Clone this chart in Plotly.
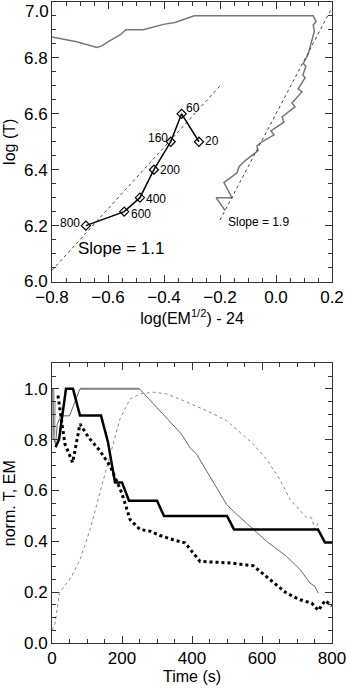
import plotly.graph_objects as go
from plotly.subplots import make_subplots

# ---- top panel: log T vs log(EM^1/2) - 24 ----
obs_x = [-0.275, -0.337, -0.376, -0.436, -0.486, -0.542, -0.679]
obs_y = [6.50, 6.60, 6.50, 6.40, 6.30, 6.25, 6.20]
obs_lbl = ["20", "60", "160", "200", "400", "600", "800"]

model_x = [-0.80, -0.712, -0.64, -0.622, -0.599, -0.557, -0.536, -0.474, -0.402,
           -0.361, -0.292, 0.133, 0.143, 0.133, 0.137, 0.131, 0.121, 0.115,
           0.0975, 0.107, 0.096, 0.104, 0.0786, 0.093, 0.057, 0.068, 0.021,
           0.029, -0.018, -0.007, -0.05, -0.068, -0.064, -0.111, -0.132,
           -0.139, -0.186, -0.157, -0.214, -0.182]
model_y = [6.875, 6.858, 6.837, 6.843, 6.858, 6.882, 6.901, 6.901, 6.92,
           6.927, 6.951, 6.951, 6.930, 6.918, 6.896, 6.873, 6.837, 6.813,
           6.780, 6.770, 6.739, 6.729, 6.689, 6.679, 6.639, 6.625, 6.589,
           6.571, 6.539, 6.525, 6.50, 6.486, 6.468, 6.432, 6.411,
           6.389, 6.354, 6.30, 6.30, 6.254]

fit1_x = [-0.80, -0.20]
fit1_y = [6.04, 6.70]
fit2_x = [-0.20, 0.20]
fit2_y = [6.22, 6.98]

logt_ticks = [6.0, 6.2, 6.4, 6.6, 6.8, 7.0]

# ---- bottom panel: normalised T and EM vs time ----
tobs_t = [10, 20, 40, 60, 80, 140, 160, 180, 200, 220, 300, 320, 500, 520, 760, 780, 800]
tobs_v = [0.77, 0.80, 1.0, 1.0, 0.895, 0.895, 0.79, 0.632, 0.632, 0.56, 0.56,
          0.50, 0.50, 0.447, 0.447, 0.395, 0.395]

emobs_t = [17, 37, 59, 80, 104, 137, 166, 199, 223, 251, 280, 309, 351, 380,
           423, 461, 509, 575, 613, 670, 709, 742, 761, 780, 800]
emobs_v = [0.974, 0.783, 0.71, 0.862, 0.81, 0.756, 0.697, 0.592, 0.486, 0.447,
           0.44, 0.423, 0.404, 0.394, 0.321, 0.318, 0.315, 0.304, 0.262, 0.196,
           0.17, 0.157, 0.128, 0.167, 0.146]

tmod_t = [2, 6, 10, 15, 25, 50, 80, 250, 370, 394, 413, 461, 499, 518, 556,
          613, 670, 709, 737, 751, 761]
tmod_v = [1.0, 0.80, 0.78, 0.86, 0.894, 0.894, 1.0, 1.0, 0.822, 0.769,
          0.743, 0.631, 0.545, 0.519, 0.47, 0.40, 0.341, 0.289, 0.236, 0.223, 0.196]

tpeak_t = [2, 4, 6, 8, None, 80, 250]
tpeak_v = [0.80, 1.0, 0.82, 0.95, None, 1.0, 1.0]

emmod_t = [1, 9, 21, 32, 56, 80, 109, 137, 166, 194, 223, 251, 290, 328, 375,
           442, 499, 537, 575, 613, 651, 680, 709, 728, 742, 751, 761]
emmod_v = [0.05, 0.078, 0.196, 0.216, 0.262, 0.328, 0.447, 0.592, 0.736, 0.881,
           0.96, 0.98, 0.987, 0.98, 0.954, 0.914, 0.875, 0.829, 0.783, 0.723,
           0.644, 0.565, 0.519, 0.493, 0.493, 0.447, 0.473]

FONT = "Liberation Sans, Arial, Helvetica, sans-serif"

fig = make_subplots(rows=2, cols=1, vertical_spacing=0.1278)

fig.add_trace(go.Scatter(x=model_x, y=model_y, mode="lines",
                         line=dict(color="#777777", width=1.5)), row=1, col=1)
fig.add_trace(go.Scatter(x=fit1_x, y=fit1_y, mode="lines",
                         line=dict(color="#444444", width=1, dash="dot")), row=1, col=1)
fig.add_trace(go.Scatter(x=fit2_x, y=fit2_y, mode="lines",
                         line=dict(color="#444444", width=1, dash="dot")), row=1, col=1)
fig.add_trace(go.Scatter(x=obs_x, y=obs_y, mode="lines+markers",
                         line=dict(color="black", width=1.5),
                         marker=dict(symbol="diamond-open", size=7, color="black",
                                     line=dict(width=1.2))), row=1, col=1)

fig.add_trace(go.Scatter(x=tpeak_t, y=tpeak_v, mode="lines",
                         line=dict(color="#bbbbbb", width=2.5)), row=2, col=1)
fig.add_trace(go.Scatter(x=tmod_t, y=tmod_v, mode="lines",
                         line=dict(color="#666666", width=1)), row=2, col=1)
fig.add_trace(go.Scatter(x=emmod_t, y=emmod_v, mode="lines",
                         line=dict(color="#888888", width=1, dash="dot")), row=2, col=1)
fig.add_trace(go.Scatter(x=emobs_t, y=emobs_v, mode="lines",
                         line=dict(color="black", width=3, dash="dot")), row=2, col=1)
fig.add_trace(go.Scatter(x=tobs_t, y=tobs_v, mode="lines",
                         line=dict(color="black", width=2.5)), row=2, col=1)

# point labels (time in s)
lbl_pos = {"20": ("left", 4, 1), "60": ("left", 2, 6), "160": ("right", -1, 4),
           "200": ("left", 4, 0), "400": ("left", 4, -1), "600": ("left", 5, -2),
           "800": ("right", -4, 3)}
for x, y, t in zip(obs_x, obs_y, obs_lbl):
    anc, dx, dy = lbl_pos[t]
    fig.add_annotation(x=x, y=y, text=t, showarrow=False, xanchor=anc,
                       xshift=dx, yshift=dy, font=dict(size=12, color="black"),
                       row=1, col=1)

fig.add_annotation(x=-0.551, y=6.117, text="Slope = 1.1", showarrow=False,
                   font=dict(size=17, color="black"), row=1, col=1)
fig.add_annotation(x=-0.178, y=6.214, text="Slope = 1.9", showarrow=False,
                   xanchor="left", font=dict(size=12, color="black"), row=1, col=1)

# top tick label would be clipped by the page edge: draw it nudged down
fig.add_annotation(xref="x domain", yref="y", x=0, y=logt_ticks[-1],
                   text=f"{logt_ticks[-1]:.1f}", showarrow=False, xanchor="right",
                   yanchor="top", xshift=-1, yshift=2,
                   font=dict(size=17, color="black"))

axis_style = dict(showline=True, linecolor="#333333", linewidth=1, mirror="allticks",
                  ticks="inside", ticklen=7, tickcolor="#333333", showgrid=False,
                  zeroline=False, automargin=False, ticklabeloverflow="allow",
                  tickfont=dict(size=17, color="black"),
                  minor=dict(ticks="inside", ticklen=4, tickcolor="#333333"))

fig.update_xaxes(**axis_style)
fig.update_yaxes(**axis_style)

fig.update_xaxes(range=[-0.8, 0.2], dtick=0.2, tickformat=".1f",
                 minor=dict(dtick=0.05),
                 title=dict(text="log(EM<sup>1/2</sup>) - 24", font=dict(size=16),
                            standoff=0), row=1, col=1)
fig.update_yaxes(range=[6.0, 7.0], tickvals=logt_ticks,
                 ticktext=[f"{v:.1f}" for v in logt_ticks[:-1]] + [" "],
                 minor=dict(dtick=0.05),
                 title=dict(text="log (T)", font=dict(size=16), standoff=4),
                 row=1, col=1)
fig.update_xaxes(range=[0, 800], dtick=200, minor=dict(dtick=50),
                 title=dict(text="Time (s)", font=dict(size=16), standoff=0),
                 row=2, col=1)
fig.update_yaxes(range=[0, 1.1], tickvals=[0, 0.2, 0.4, 0.6, 0.8, 1.0],
                 tickformat=".1f", minor=dict(dtick=0.05),
                 title=dict(text="norm. T, EM", font=dict(size=16), standoff=4),
                 row=2, col=1)

fig.update_layout(
    width=346, height=688,
    margin=dict(l=52, r=14, t=2, b=45, autoexpand=False),
    showlegend=False,
    plot_bgcolor="white", paper_bgcolor="white",
    font=dict(family=FONT, color="black"),
)

# page body has an 8px default margin; drop it so the figure fills the window
fig.write_html("out.html", config={"displayModeBar": False},
               post_script="document.body.style.margin='0';"
                           "document.body.style.overflow='hidden';")
